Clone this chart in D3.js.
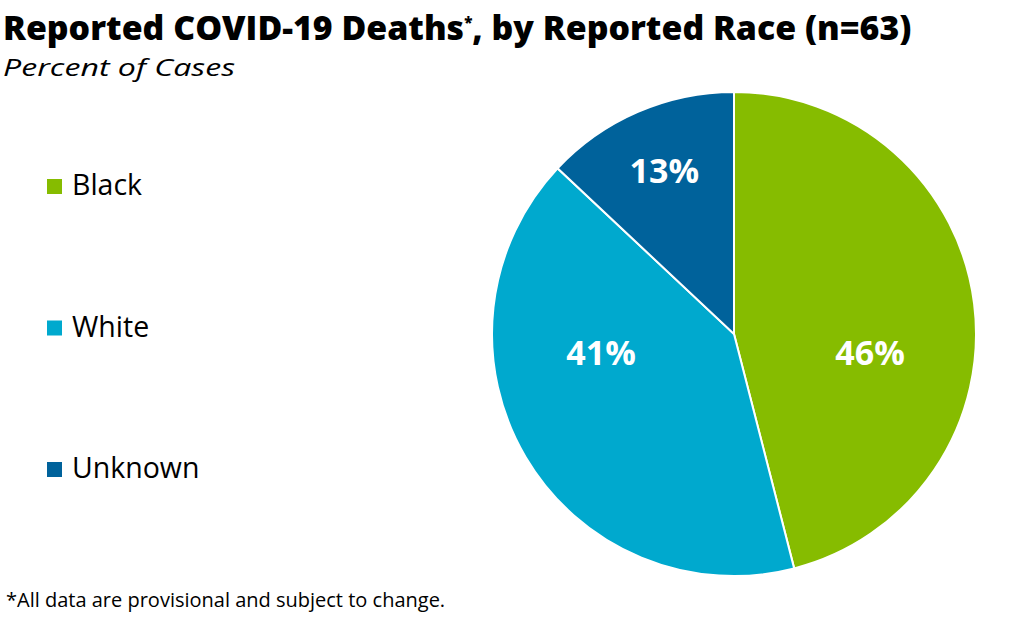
<!DOCTYPE html>
<html>
<head>
<meta charset="utf-8">
<script src="https://cdn.jsdelivr.net/npm/d3@7"></script>
<style>
  body { margin: 0; background: #fff; }
  svg { display: block; }
</style>
</head>
<body>
<div id="chart"></div>
<script>
// data
var categories = ["Black", "White", "Unknown"];
var percents = [46, 41, 13];
var colors = ["#86bc00", "#00a9ce", "#00629b"];

var width = 1012, height = 643;
var cx = 734, cy = 334, radius = 242;

var svg = d3.select("#chart").append("svg")
    .attr("width", width)
    .attr("height", height);

// title, squeezed to the width it takes in the picture
var title = svg.append("text")
    .attr("x", 3).attr("y", 40)
    .style("font-family", "'Open Sans', sans-serif")
    .style("font-weight", 800)
    .style("font-size", "30px")
    .attr("fill", "#000");
title.append("tspan").text("Reported COVID-19 Deaths");
title.append("tspan").attr("dy", -12).style("font-size", "14px").text("*");
title.append("tspan").attr("dy", 12).text(", by Reported Race (n=63)");

var tw = title.node().getBBox().width;
var fs = 30 * 909 / tw;
title.style("font-size", fs + "px");
title.select("tspan:nth-child(2)").style("font-size", (fs * 0.45) + "px");

svg.append("text")
    .attr("x", 3).attr("y", 76)
    .attr("textLength", 232)
    .attr("lengthAdjust", "spacingAndGlyphs")
    .style("font-family", "'Open Sans', sans-serif")
    .style("font-style", "italic")
    .style("font-size", "24px")
    .text("Percent of Cases");

// pie
var pie = d3.pie().sort(null).value(function(d) { return d; });
var arc = d3.arc().innerRadius(0).outerRadius(radius);
var labelArc = d3.arc().innerRadius(radius * 0.6).outerRadius(radius * 0.6);

// label nudges away from the centroid, like the original placement
var nudge = [[-8, 37], [-8, -55], [-12, -30]];

var g = svg.append("g").attr("transform", "translate(" + cx + "," + cy + ")");
var slices = pie(percents);

g.selectAll("path.slice")
    .data(slices)
    .enter().append("path")
    .attr("class", "slice")
    .attr("d", arc)
    .attr("fill", function(d, i) { return colors[i]; })
    .attr("stroke", "#fff")
    .attr("stroke-width", 2);

g.selectAll("text.lbl")
    .data(slices)
    .enter().append("text")
    .attr("class", "lbl")
    .attr("x", function(d, i) { return labelArc.centroid(d)[0] + nudge[i][0]; })
    .attr("y", function(d, i) { return labelArc.centroid(d)[1] + nudge[i][1]; })
    .attr("dy", "0.36em")
    .attr("text-anchor", "middle")
    .style("font-family", "'Open Sans', sans-serif")
    .style("font-weight", 700)
    .style("font-size", "34px")
    .attr("fill", "#fff")
    .text(function(d) { return d.value + "%"; });

// legend
var legend = svg.selectAll("g.leg")
    .data(categories)
    .enter().append("g")
    .attr("class", "leg")
    .attr("transform", function(d, i) { return "translate(47," + (179 + i * 141.5) + ")"; });

legend.append("rect")
    .attr("width", 15).attr("height", 15)
    .attr("fill", function(d, i) { return colors[i]; });

legend.append("text")
    .attr("x", 25).attr("y", 16)
    .style("font-family", "'Open Sans', sans-serif")
    .style("font-size", "28.5px")
    .attr("fill", "#000")
    .text(function(d) { return d; });

svg.append("text")
    .attr("x", 6).attr("y", 607)
    .style("font-family", "'Open Sans', sans-serif")
    .style("font-size", "20px")
    .attr("fill", "#000")
    .text("*All data are provisional and subject to change.");
</script>
</body>
</html>
